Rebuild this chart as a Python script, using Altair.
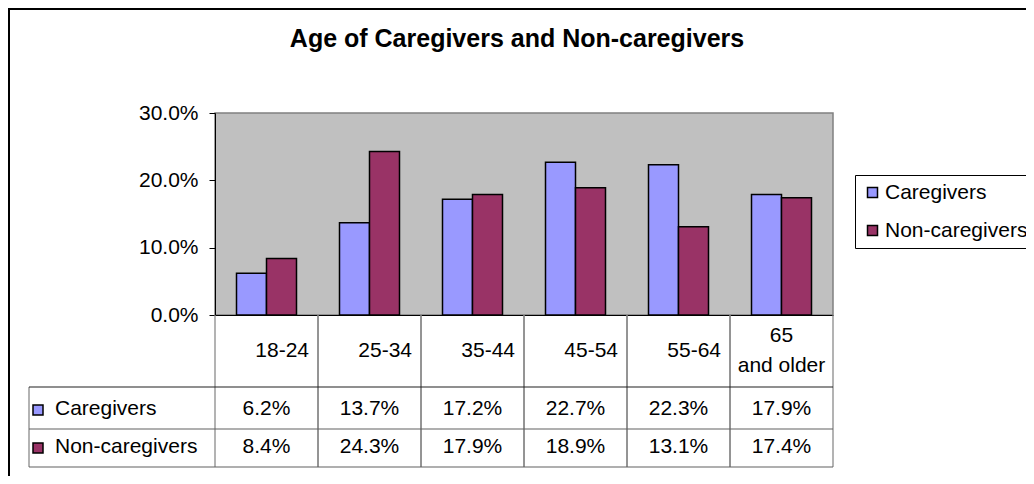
import altair as alt
import pandas as pd

# ---- data ----
categories = ["18-24", "25-34", "35-44", "45-54", "55-64", "65 and older"]
header_labels = ["18-24", "25-34", "35-44", "45-54", "55-64", "65\nand older"]
series = ["Caregivers", "Non-caregivers"]
caregivers = [0.062, 0.137, 0.172, 0.227, 0.223, 0.179]
non_caregivers = [0.084, 0.243, 0.179, 0.189, 0.131, 0.174]
colors = ["#9999FF", "#993366"]
y_ticks = [0.0, 0.1, 0.2, 0.3]
title_text = "Age of Caregivers and Non-caregivers"

FONT = "Liberation Sans"
FS = 21

rows = []
for i, c in enumerate(categories):
    for s, vals in zip(series, [caregivers, non_caregivers]):
        rows.append({"category": c, "series": s, "value": vals[i]})
df = pd.DataFrame(rows)
df_head = pd.DataFrame({
    "category": categories,
    "header": header_labels,
    "multi": [("\n" in h) for h in header_labels],
})
df_series = pd.DataFrame({"series": series})
one = pd.DataFrame({"k": [0]})

x_axis = alt.Axis(labels=False, ticks=False, title=None, grid=False,
                  domainColor="black", domainWidth=1)
x_scale = alt.Scale(domain=categories, paddingInner=0, paddingOuter=0)


def xenc(bp=None):
    if bp is None:
        return alt.X("category:N", sort=categories, scale=x_scale, axis=x_axis)
    return alt.X("category:N", sort=categories, scale=x_scale, axis=x_axis, bandPosition=bp)


color_enc = alt.Color(
    "series:N", sort=series,
    scale=alt.Scale(domain=series, range=colors),
    legend=alt.Legend(
        title=None, orient="none", legendX=640, legendY=62,
        strokeColor="black", fillColor="white", padding=7,
        symbolType="square", symbolSize=100, symbolStrokeColor="black",
        symbolStrokeWidth=1.5, labelFont=FONT, labelFontSize=FS,
        labelColor="black", labelOffset=2, rowPadding=16, labelLimit=400,
    ),
)

frame = alt.Chart(one).mark_rect(fillOpacity=0, stroke="black", strokeWidth=2).encode(
    x=alt.value(-206), x2=alt.value(1000), y=alt.value(-104), y2=alt.value(500)
)

bars = alt.Chart(df).mark_bar(stroke="black", strokeWidth=1.5).encode(
    x=xenc(),
    xOffset=alt.XOffset("series:N", sort=series,
                        scale=alt.Scale(domain=series, paddingInner=0, paddingOuter=0.7167)),
    y=alt.Y("value:Q", scale=alt.Scale(domain=[0, 0.3], nice=False, zero=True),
            axis=alt.Axis(values=y_ticks, format=".1%", title=None, grid=False)),
    color=color_enc,
)

# table grid
vlines_left = alt.Chart(df_head).mark_rule(color="#808080", strokeWidth=1.2).encode(
    x=xenc(0), y=alt.value(202), y2=alt.value(354))
vlines_right = alt.Chart(df_head).mark_rule(color="#808080", strokeWidth=1.2).encode(
    x=xenc(1), y=alt.value(202), y2=alt.value(354))
vline_label = alt.Chart(one).mark_rule(color="#808080", strokeWidth=1.2).encode(
    x=alt.value(-186), y=alt.value(274), y2=alt.value(354))
hline1 = alt.Chart(one).mark_rule(color="#202020", strokeWidth=1.2).encode(
    x=alt.value(-186), x2=alt.value(618), y=alt.value(274))
hline2 = alt.Chart(one).mark_rule(color="#606060", strokeWidth=1.2).encode(
    x=alt.value(-186), x2=alt.value(618), y=alt.value(316))
hline3 = alt.Chart(one).mark_rule(color="#606060", strokeWidth=1.2).encode(
    x=alt.value(-186), x2=alt.value(618), y=alt.value(354))

txt = dict(font=FONT, fontSize=FS, color="black", baseline="alphabetic")

head_single = alt.Chart(df_head).transform_filter("!datum.multi").mark_text(
    align="right", dx=-9, **txt).encode(
    x=xenc(1), y=alt.value(243.7), text="header:N")
head_multi = alt.Chart(df_head).transform_filter("datum.multi").mark_text(
    align="center", lineBreak="\n", lineHeight=30, **txt).encode(
    x=xenc(0.5), y=alt.value(228.7), text="header:N")

row_y = {"Caregivers": 302, "Non-caregivers": 340.3}
sw_y = {"Caregivers": 297, "Non-caregivers": 335}

table_layers = []
for s in series:
    f = alt.datum.series == s
    table_layers.append(
        alt.Chart(df).transform_filter(f).mark_text(align="center", **txt).encode(
            x=xenc(0.5), y=alt.value(row_y[s]),
            text=alt.Text("value:Q", format=".1%")))
    table_layers.append(
        alt.Chart(df_series).transform_filter(f).mark_text(align="left", **txt).encode(
            x=alt.value(-160), y=alt.value(row_y[s]), text="series:N"))
    table_layers.append(
        alt.Chart(df_series).transform_filter(f).mark_point(
            shape="square", filled=True, size=100, stroke="black",
            strokeWidth=1.5, opacity=1).encode(
            x=alt.value(-177), y=alt.value(sw_y[s]), color=color_enc))

chart = alt.layer(
    frame, bars, vlines_left, vlines_right, vline_label, hline1, hline2, hline3,
    head_single, head_multi, *table_layers,
).properties(
    width=618, height=202,
    background="white",
    autosize=alt.AutoSizeParams(type="none"),
    padding={"left": 207, "top": 105, "right": 193, "bottom": 161},
    title=alt.TitleParams(title_text, font=FONT, fontSize=25, fontWeight="bold",
                          color="black", anchor="middle", dx=-7, offset=0, dy=64,
                          baseline="alphabetic"),
).configure_view(
    fill="#C0C0C0", stroke="#808080", strokeWidth=1.5
).configure_axisY(
    labelFont=FONT, labelFontSize=FS, labelColor="black", tickColor="black",
    tickSize=6, domainColor="black", labelPadding=11,
)

chart.save("out.html", embed_options={"renderer": "svg", "actions": False})
